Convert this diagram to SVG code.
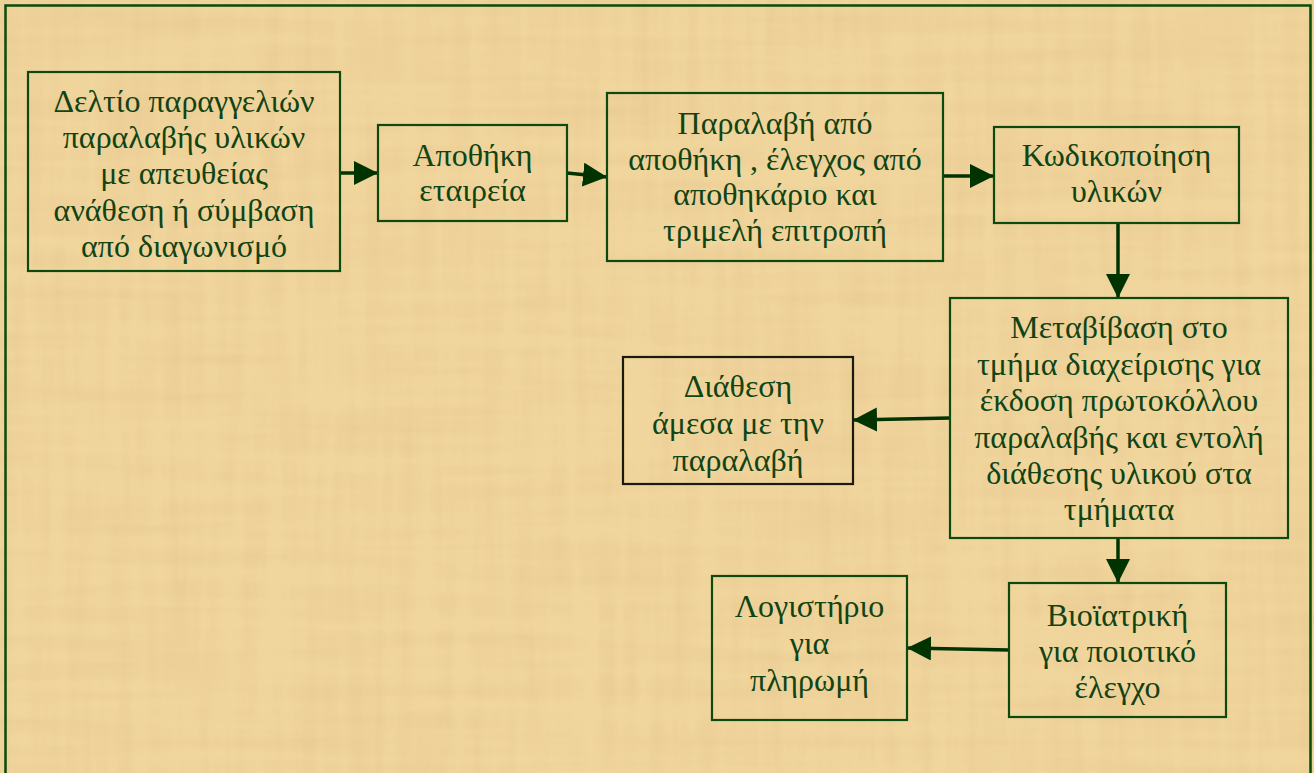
<svg xmlns="http://www.w3.org/2000/svg" width="1314" height="773" viewBox="0 0 1314 773">
  <defs>
    <filter id="papyrus" x="0" y="0" width="100%" height="100%" filterUnits="userSpaceOnUse">
      <feTurbulence type="fractalNoise" baseFrequency="0.004 0.06" numOctaves="3" seed="3" result="h"/>
      <feTurbulence type="fractalNoise" baseFrequency="0.06 0.004" numOctaves="3" seed="7" result="v"/>
      <feComposite in="h" in2="v" operator="arithmetic" k2="0.5" k3="0.5" result="n"/>
      <feColorMatrix in="n" type="matrix" values="0 0 0 0 0.80  0 0 0 0 0.58  0 0 0 0 0.28  1.7 0 0 0 -0.65" result="tint"/>
      <feComposite in="tint" in2="SourceGraphic" operator="over"/>
    </filter>
    <marker id="arrow" markerUnits="userSpaceOnUse" markerWidth="25" markerHeight="25" refX="24" refY="12" orient="auto">
      <path d="M0,0 L24,12 L0,24 Z" fill="#003300"/>
    </marker>
    <style>
      .box { fill: none; stroke: #0d4a10; stroke-width: 2.2; }
      .box.dark { stroke: #1a1a0e; }
      .lbl { font-family: "Liberation Serif", "Times New Roman", serif; font-size: 32px; fill: #114414; text-anchor: middle; }
      .conn { stroke: #003300; stroke-width: 3.5; fill: none; marker-end: url(#arrow); }
    </style>
  </defs>

  <rect x="0" y="0" width="1314" height="773" fill="#F0D59C" filter="url(#papyrus)"/>
  <rect x="5.5" y="5.5" width="1305" height="820" fill="none" stroke="#0b4a0b" stroke-width="2.5"/>

  <g id="connectors">
    <line class="conn" x1="340" y1="173" x2="378" y2="173"/>
    <line class="conn" x1="567" y1="173" x2="607" y2="177"/>
    <line class="conn" x1="943" y1="176" x2="994" y2="176"/>
    <line class="conn" x1="1118" y1="223" x2="1118" y2="298"/>
    <line class="conn" x1="950" y1="418" x2="853" y2="420"/>
    <line class="conn" x1="1118" y1="538" x2="1118" y2="583"/>
    <line class="conn" x1="1009" y1="650" x2="907" y2="648"/>
  </g>

  <g id="node-deltio">
    <rect class="box" x="28" y="72" width="312" height="199"/>
    <text class="lbl" x="184" y="112">Δελτίο παραγγελιών</text>
    <text class="lbl" x="184" y="148">παραλαβής υλικών</text>
    <text class="lbl" x="184" y="184">με απευθείας</text>
    <text class="lbl" x="184" y="221">ανάθεση ή σύμβαση</text>
    <text class="lbl" x="184" y="257">από διαγωνισμό</text>
  </g>

  <g id="node-apothiki">
    <rect class="box" x="378" y="125" width="189" height="96"/>
    <text class="lbl" x="472.5" y="166">Αποθήκη</text>
    <text class="lbl" x="472.5" y="201">εταιρεία</text>
  </g>

  <g id="node-paralavi">
    <rect class="box" x="607" y="93" width="336" height="168"/>
    <text class="lbl" x="775" y="134">Παραλαβή από</text>
    <text class="lbl" x="775" y="170">αποθήκη , έλεγχος από</text>
    <text class="lbl" x="775" y="205">αποθηκάριο και</text>
    <text class="lbl" x="775" y="241">τριμελή επιτροπή</text>
  </g>

  <g id="node-kodikopoiisi">
    <rect class="box" x="994" y="127" width="245" height="96"/>
    <text class="lbl" x="1116.5" y="166">Κωδικοποίηση</text>
    <text class="lbl" x="1116.5" y="202">υλικών</text>
  </g>

  <g id="node-metavivasi">
    <rect class="box" x="950" y="298" width="338" height="240"/>
    <text class="lbl" x="1119" y="338">Μεταβίβαση στο</text>
    <text class="lbl" x="1119" y="375">τμήμα διαχείρισης για</text>
    <text class="lbl" x="1119" y="411">έκδοση πρωτοκόλλου</text>
    <text class="lbl" x="1119" y="448">παραλαβής και εντολή</text>
    <text class="lbl" x="1119" y="484">διάθεσης υλικού στα</text>
    <text class="lbl" x="1119" y="520">τμήματα</text>
  </g>

  <g id="node-diathesi">
    <rect class="box dark" x="623" y="357" width="230" height="127"/>
    <text class="lbl" x="738" y="397">Διάθεση</text>
    <text class="lbl" x="738" y="434">άμεσα με την</text>
    <text class="lbl" x="738" y="471">παραλαβή</text>
  </g>

  <g id="node-vioiatriki">
    <rect class="box" x="1009" y="583" width="217" height="134"/>
    <text class="lbl" x="1117.5" y="626">Βιοϊατρική</text>
    <text class="lbl" x="1117.5" y="662">για ποιοτικό</text>
    <text class="lbl" x="1117.5" y="698">έλεγχο</text>
  </g>

  <g id="node-logistirio">
    <rect class="box" x="712" y="576" width="195" height="144"/>
    <text class="lbl" x="809.5" y="617">Λογιστήριο</text>
    <text class="lbl" x="809.5" y="654">για</text>
    <text class="lbl" x="809.5" y="691">πληρωμή</text>
  </g>
</svg>
